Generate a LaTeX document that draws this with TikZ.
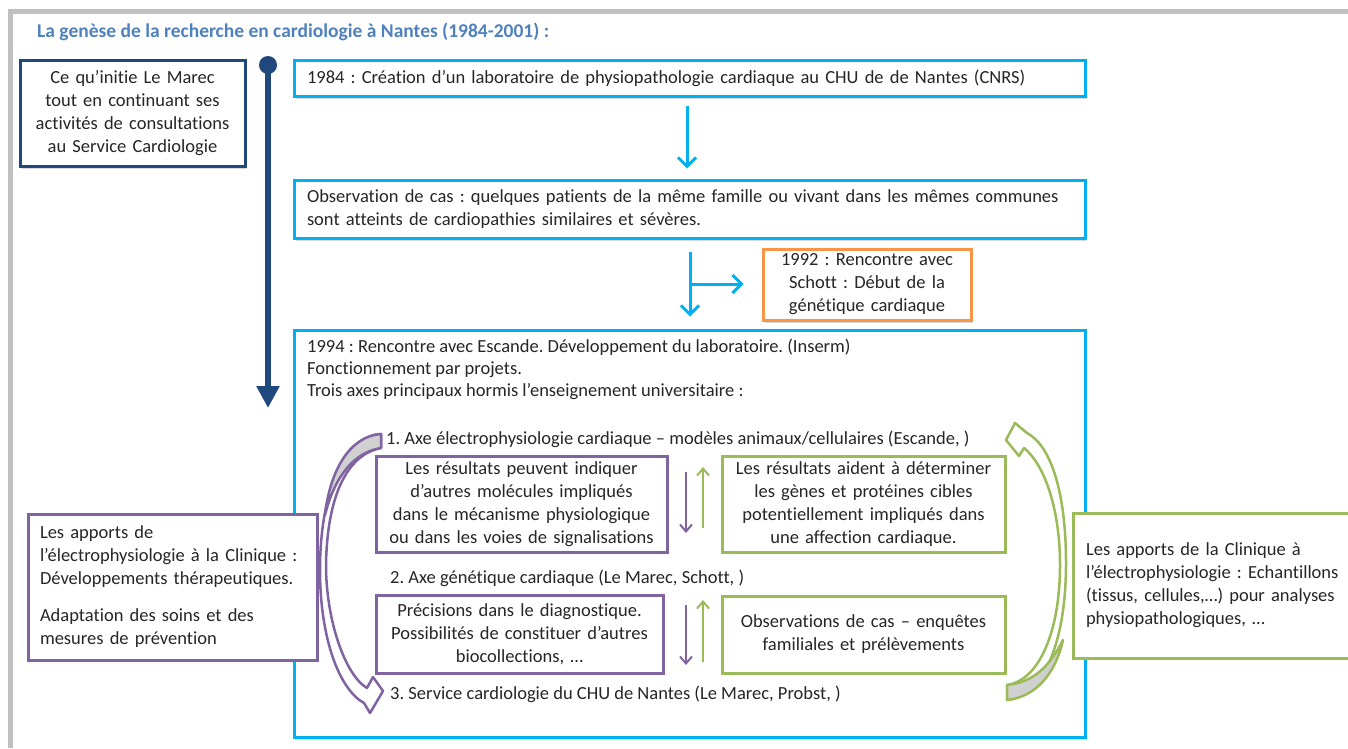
\documentclass[tikz,border=0pt]{standalone}
\usepackage{fontspec}
\setmainfont{Carlito}[Ligatures=NoCommon]
\usetikzlibrary{arrows.meta,shadows,calc}
\definecolor{navy}{HTML}{1F497D}
\definecolor{cyanb}{HTML}{00B0F0}
\definecolor{orangeb}{HTML}{F79646}
\definecolor{purpleb}{HTML}{8064A2}
\definecolor{greenb}{HTML}{9BBB59}
\definecolor{titleblue}{HTML}{4F81BD}
\definecolor{framegray}{HTML}{C0C0C0}
\definecolor{backgray}{HTML}{D0D0D0}
\frenchspacing
\begin{document}
\begin{tikzpicture}[x=1pt,y=-1pt,
  every node/.style={font=\fontsize{18.5}{23}\selectfont, inner sep=0pt, text=black!85},
  sz/.style 2 args={minimum width=#1pt, minimum height=#2pt},
  shad/.style={drop shadow={shadow xshift=2pt,shadow yshift=-3pt,opacity=0.3}},
  cyanbox/.style={draw=cyanb, line width=3pt, fill=white, shad},
  navybox/.style={draw=navy, line width=3pt, fill=white, shad},
  orangebox/.style={draw=orangeb, line width=3pt, fill=white, shad},
  purplebox/.style={draw=purpleb, line width=3pt, fill=white},
  greenbox/.style={draw=greenb, line width=3pt, fill=white},
  cyanarrow/.style={draw=cyanb, line width=3pt, -{Straight Barb[length=9pt,width=18pt]}},
  purplearrow/.style={draw=purpleb, line width=2pt, -{Straight Barb[length=7pt,width=12pt]}},
  greenarrow/.style={draw=greenb, line width=2pt, -{Straight Barb[length=7pt,width=12pt]}},
  plain/.style={anchor=west, align=left}
]
\clip (0,0) rectangle (1348,748);
\fill[white] (0,0) rectangle (1348,748);
% frame
\draw[framegray, line width=5pt] (10.5,748) -- (10.5,11) -- (1348,11);
% title
\node[anchor=west, font=\fontsize{19.5}{23}\selectfont\bfseries, text=titleblue] (title) at (37,32)
  {La genèse de la recherche en cardiologie à Nantes (1984-2001) :};
% left navy box
\node[navybox, sz={225}{106}, text width=219pt, align=center] (lm) at (132.5,113)
  {Ce qu’initie Le Marec\\tout en continuant ses\\activités de consultations\\au Service Cardiologie};
% timeline
\node[circle, fill=navy, minimum size=18pt] (dot) at (268,65) {};
\coordinate (tlend) at (268,408);
\draw[navy, line width=6pt, -{Triangle[length=22pt,width=22pt]}] (dot.center) -- (tlend);
% big box (drawn first)
\node[cyanbox, sz={791}{407}] (big) at (689.5,533.5) {};
% top boxes
\node[cyanbox, sz={791}{36}, text width=765pt, align=left] (b1) at (689.5,78)
  {1984 : Création d’un laboratoire de physiopathologie cardiaque au CHU de de Nantes (CNRS)};
\node[cyanbox, sz={791}{58}, text width=765pt, align=left] (b2) at (689.5,209)
  {Observation de cas : quelques patients de la même famille ou vivant dans les mêmes communes\\sont atteints de cardiopathies similaires et sévères.};
\node[orangebox, sz={208}{71}, text width=204pt, align=center] (orb) at (867,284.5)
  {1992 : Rencontre avec\\Schott : Début de la\\génétique cardiaque};
% cyan arrows
\coordinate (a1s) at ($(b1.south)+(-2.5,8)$);
\coordinate (a1e) at ($(b2.north)+(-2.5,-10)$);
\draw[cyanarrow] (a1s) -- (a1e);
\coordinate (a2s) at ($(b2.south)+(0.5,12)$);
\coordinate (a2e) at ($(big.north)+(0.5,-12)$);
\draw[cyanarrow] (a2s) -- (a2e);
\coordinate (a2m) at ($(a2s)!0.5!(a2e)$);
\coordinate (a3e) at ($(orb.west)+(-18,0)$);
\draw[cyanarrow] (a2m) -- (a3e |- a2m);
% intro text
\node[anchor=north west, align=left, font=\fontsize{18.5}{22}\selectfont] (intro) at (307,339)
  {1994 : Rencontre avec Escande. Développement du laboratoire. (Inserm)\\Fonctionnement par projets.\\Trois axes principaux hormis l’enseignement universitaire :};
% axes
\node[plain] (ax1) at (386,439) {1. Axe électrophysiologie cardiaque – modèles animaux/cellulaires (Escande, )};
\node[plain] (ax2) at (390,578) {2. Axe génétique cardiaque (Le Marec, Schott, )};
\node[plain] (ax3) at (390,694) {3. Service cardiologie du CHU de Nantes (Le Marec, Probst, )};
% inner boxes
\node[purplebox, sz={291}{96}, text width=287pt, align=center] (pa) at (521.5,504)
  {Les résultats peuvent indiquer\\d’autres molécules impliqués\\dans le mécanisme physiologique\\ou dans les voies de signalisations};
\node[greenbox, sz={283}{96}, text width=279pt, align=center] (gb) at (863.5,504)
  {Les résultats aident à déterminer\\les gènes et protéines cibles\\potentiellement impliqués dans\\une affection cardiaque.};
\node[purplebox, sz={287}{78}, text width=283pt, align=center] (pc) at (519.5,634)
  {Précisions dans le diagnostique.\\Possibilités de constituer d’autres\\biocollections, …};
\node[greenbox, sz={283}{77}, text width=279pt, align=center] (gd) at (863.5,634.5)
  {Observations de cas – enquêtes\\familiales et prélèvements};
% small arrows
\coordinate (p1s) at (686,472); \coordinate (p1e) at (686,533);
\coordinate (g1s) at (703,528); \coordinate (g1e) at (703,467);
\coordinate (p2s) at (686,605); \coordinate (p2e) at (686,665);
\coordinate (g2s) at (703,662); \coordinate (g2e) at (703,600);
\draw[purplearrow] (p1s) -- (p1e);
\draw[greenarrow] (g1s) -- (g1e);
\draw[purplearrow] (p2s) -- (p2e);
\draw[greenarrow] (g2s) -- (g2e);
% side boxes
\node[purplebox, sz={289}{146}, text width=265pt, align=left] (pe) at (172.5,587)
  {Les apports de\\l’électrophysiologie à la Clinique :\\Développements thérapeutiques.\\[14pt]Adaptation des soins et des\\mesures de prévention};
\node[greenbox, sz={287}{145}, text width=261pt, align=left] (gf) at (1216.5,585.5)
  {Les apports de la Clinique à\\l’électrophysiologie : Echantillons\\(tissus, cellules,…) pour analyses\\physiopathologiques, …};
% purple curved arrow
\filldraw[draw=purpleb, fill=white, line width=2.5pt, line join=round]
  (381,434) .. controls (345,436) and (320,490) .. (320,570)
  .. controls (320,640) and (340,690) .. (364,703)
  -- (370,713) -- (383,691) -- (373,677) -- (367,688)
  .. controls (345,675) and (326,620) .. (326,565)
  .. controls (327,500) and (345,455) .. (381,448) -- cycle;
\filldraw[draw=purpleb, fill=backgray, line width=2.5pt, line join=round]
  (381,434) .. controls (350,436) and (330,470) .. (325,515)
  .. controls (335,475) and (355,452) .. (381,448) -- cycle;
% green curved arrow
\filldraw[draw=greenb, fill=white, line width=2.5pt, line join=round]
  (1007,700) .. controls (1045,695) and (1066,640) .. (1066,563)
  .. controls (1066,490) and (1050,445) .. (1027,433)
  -- (1015,423) -- (1006,440) -- (1019,456) -- (1024,448)
  .. controls (1045,465) and (1060,510) .. (1060,565)
  .. controls (1060,630) and (1040,680) .. (1007,685) -- cycle;
\filldraw[draw=greenb, fill=backgray, line width=2.5pt, line join=round]
  (1007,700) .. controls (1035,697) and (1055,675) .. (1063,640)
  .. controls (1050,665) and (1035,682) .. (1007,685) -- cycle;
\end{tikzpicture}
\end{document}
